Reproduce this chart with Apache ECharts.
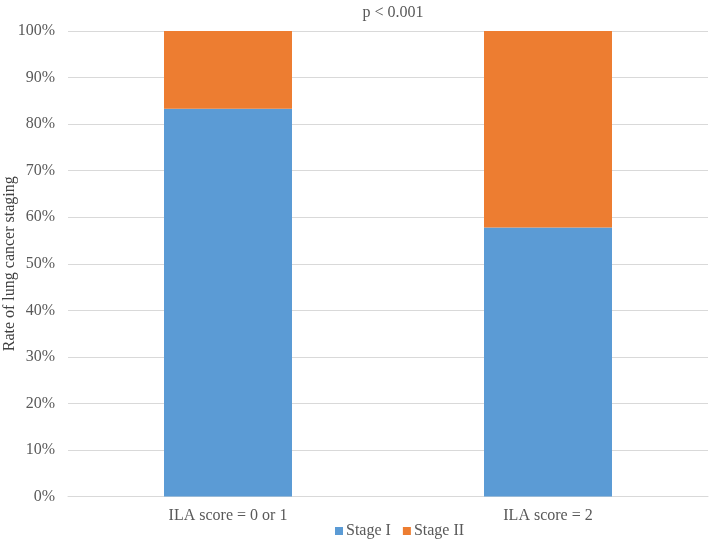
<!DOCTYPE html>
<html><head><meta charset="utf-8">
<script src="https://cdn.jsdelivr.net/npm/echarts@6/dist/echarts.min.js"></script>
<style>html,body{margin:0;padding:0;background:#fff}#c{width:709px;height:544px}</style>
</head><body><div id="c"></div>
<script>
const categories = ['ILA score = 0 or 1', 'ILA score = 2'];
const stageI = [83.3, 57.8];
const stageII = [16.7, 42.2];
const yTicks = [0, 10, 20, 30, 40, 50, 60, 70, 80, 90, 100];

const font = 'Liberation Serif';
const txt = '#595959';
const chart = echarts.init(document.getElementById('c'), null, {renderer: 'canvas'});
chart.setOption({
  animation: false,
  title: {text: 'p < 0.001', left: 388, textAlign: 'center', top: 0,
    textStyle: {fontFamily: font, fontSize: 16, fontWeight: 'normal', color: txt}},
  legend: {bottom: 0, left: 330, itemWidth: 8, itemHeight: 8, itemGap: 12, icon: 'rect',
    textStyle: {fontFamily: font, fontSize: 16, color: txt, padding: [0, 0, 0, -2]},
    data: ['Stage I', 'Stage II']},
  grid: {left: 68, right: 1, top: 31, bottom: 47.5, containLabel: false, outerBoundsMode: 'none'},
  xAxis: {type: 'category', data: categories,
    axisLine: {lineStyle: {color: '#d9d9d9'}}, axisTick: {show: false},
    axisLabel: {fontFamily: font, fontSize: 16, color: txt, margin: 11}},
  yAxis: {type: 'value', min: 0, max: 100, interval: 10,
    name: 'Rate of lung cancer staging', nameLocation: 'middle', nameGap: 50,
    nameMoveOverlap: false,
    nameTextStyle: {fontFamily: font, fontSize: 16, color: '#404040'},
    axisLabel: {fontFamily: font, fontSize: 16, color: txt, margin: 13,
      formatter: v => yTicks.includes(v) ? v + '%' : ''},
    splitLine: {lineStyle: {color: '#d9d9d9'}}},
  series: [
    {name: 'Stage I', type: 'bar', stack: 's', data: stageI, barWidth: '40%',
      itemStyle: {color: '#5B9BD5'}},
    {name: 'Stage II', type: 'bar', stack: 's', data: stageII, barWidth: '40%',
      itemStyle: {color: '#ED7D31'}}
  ]
});
</script></body></html>
